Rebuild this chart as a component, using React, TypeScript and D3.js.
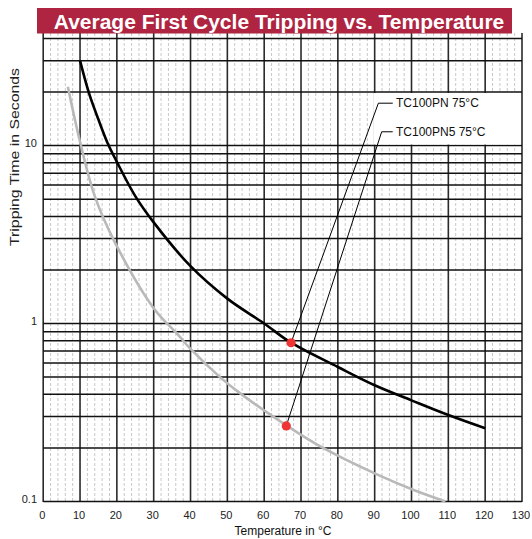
import React from 'react';
import * as d3 from 'd3';

// ---- data ----
const xTickValues = [0, 10, 20, 30, 40, 50, 60, 70, 80, 90, 100, 110, 120, 130];
const xMinorValues = d3.range(0, 131, 2).filter((v) => v % 10 !== 0);
const yTickValues = [0.1, 1, 10];
const yTickLabels = ['0.1', '1', '10'];
const yGridValues = [
  0.1, 0.2, 0.3, 0.4, 0.5, 0.6, 0.7, 0.8, 0.9,
  1, 2, 3, 4, 5, 6, 7, 8, 9,
  10, 20, 30, 40,
];

// TC100PN 75°C (black)
const pnTemp = [10, 12.5, 15, 17.5, 20, 25, 30, 40, 50, 60, 67.3, 80, 90, 100, 110, 120];
const pnTime = [30, 19.5, 14, 10.3, 8.1, 5.2, 3.7, 2.1, 1.38, 1.0, 0.78, 0.57, 0.45, 0.37, 0.306, 0.258];

// TC100PN5 75°C (gray)
const pn5Temp = [6.7, 10, 14, 19.5, 30, 36.7, 40, 48, 53.5, 66, 76, 90.6, 100.6, 109.2];
const pn5Time = [21.4, 10.5, 5.2, 2.85, 1.22, 0.86, 0.72, 0.5, 0.405, 0.268, 0.2, 0.142, 0.116, 0.1];

const seriesNames = ['TC100PN 75°C', 'TC100PN5 75°C'];
const markerTemp = [67.3, 66];
const markerTime = [0.78, 0.266];
const calloutTemp = [91, 91.9];
const calloutTime = [17.3, 11.95];

const title = 'Average First Cycle Tripping vs. Temperature';
const xTitle = 'Temperature in °C';
const yTitle = 'Tripping Time in Seconds';

// ---- layout ----
const W = 532;
const H = 539;
const FONT = '"Liberation Sans", Arial, Helvetica, sans-serif';

export default function App() {
  const x = d3.scaleLinear().domain([0, 130]).range([43.2, 522]);
  const y = d3.scaleLog().domain([0.1, 42.9]).range([501.5, 33]);

  const line = d3
    .line<[number, number]>()
    .x((d) => x(d[0]))
    .y((d) => y(d[1]))
    .curve(d3.curveCatmullRom.alpha(0.5));

  const pnPts = pnTemp.map((t, i) => [t, pnTime[i]] as [number, number]);
  const pn5Pts = pn5Temp.map((t, i) => [t, pn5Time[i]] as [number, number]);

  const yTop = y.range()[1];
  const yBot = y.range()[0];

  return (
    <div style={{ position: 'absolute', left: 0, top: 0 }}>
      <svg width={W} height={H} style={{ display: 'block' }}>
        <rect x={0} y={0} width={W} height={H} fill="#fff" />
        {/* minor dashed verticals */}
        {xMinorValues.map((v) => (
          <line key={'mv' + v} x1={x(v)} x2={x(v)} y1={yTop} y2={yBot}
            stroke="#c8c8c8" strokeWidth={1} strokeDasharray="3,2" />
        ))}
        {/* major verticals */}
        {xTickValues.map((v) => (
          <line key={'v' + v} x1={x(v)} x2={x(v)} y1={yTop} y2={yBot + 0.5}
            stroke="#2a2a2a" strokeWidth={1.6} />
        ))}
        {/* horizontals */}
        {yGridValues.map((v) => (
          <line key={'h' + v} x1={x(0)} x2={x(130)} y1={y(v)} y2={y(v)}
            stroke="#111" strokeWidth={1.5} />
        ))}
        {/* legend box */}
        <rect x={x(90) - 1} y={y(20) + 1} width={x(130) - x(90)} height={y(10) - y(20) - 2} fill="#fff" />
        {/* curves */}
        <path d={line(pn5Pts) || ''} fill="none" stroke="#b9b9b9" strokeWidth={2.6} />
        <path d={line(pnPts) || ''} fill="none" stroke="#000" strokeWidth={2.6} />
        {/* callouts */}
        {seriesNames.map((name, i) => {
          const ex = x(calloutTemp[i]);
          const ey = y(calloutTime[i]);
          return (
            <g key={name}>
              <polyline
                points={`${x(markerTemp[i])},${y(markerTime[i])} ${ex},${ey} ${ex + (i === 0 ? 14.4 : 11)},${ey}`}
                fill="none" stroke="#000" strokeWidth={1} />
              <text x={396} y={ey + 4} fontFamily={FONT} fontSize={12} fill="#111">{name}</text>
            </g>
          );
        })}
        {markerTemp.map((t, i) => (
          <circle key={'m' + i} cx={x(t)} cy={y(markerTime[i])} r={4.6} fill="#ee3434" />
        ))}
        {/* title banner */}
        <rect x={37} y={8} width={475} height={25.5} fill="#ae2441" />
        <text x={279} y={28.8} textAnchor="middle" fontFamily={FONT} fontWeight="bold"
          fontSize={21} fill="#fff">{title}</text>
        {/* x tick labels */}
        {xTickValues.map((v) => (
          <text key={'xt' + v} x={x(v) - 1} y={519} textAnchor="middle" fontFamily={FONT}
            fontSize={11} fill="#222">{v}</text>
        ))}
        {/* y tick labels */}
        {yTickValues.map((v, i) => (
          <text key={'yt' + v} x={37} y={y(v) + 1.5} textAnchor="end" fontFamily={FONT}
            fontSize={11} fill="#222">{yTickLabels[i]}</text>
        ))}
        <text x={283} y={535} textAnchor="middle" fontFamily={FONT} fontSize={12} fill="#111">{xTitle}</text>
        <text transform="translate(19,157) rotate(-90)" textAnchor="middle" fontFamily={FONT}
          fontSize={12.5} textLength={178} lengthAdjust="spacingAndGlyphs" fill="#222">{yTitle}</text>
      </svg>
    </div>
  );
}
